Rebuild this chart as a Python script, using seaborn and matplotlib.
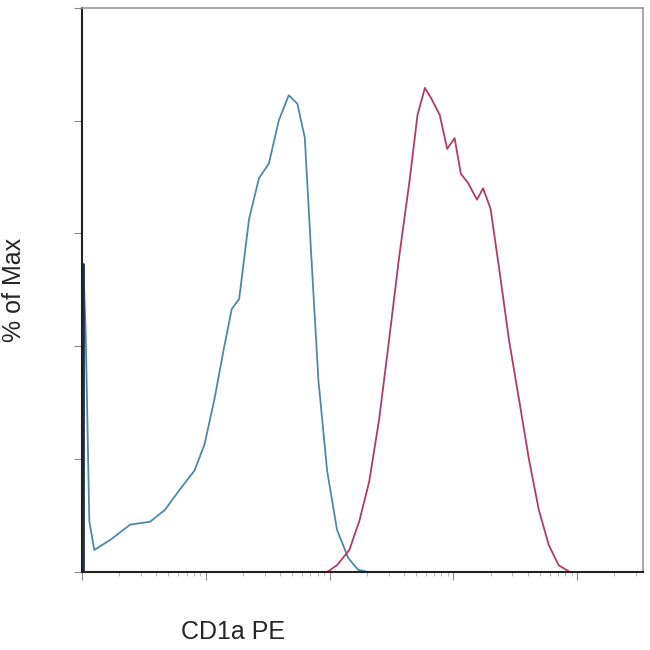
import matplotlib
matplotlib.use("Agg")
import matplotlib.pyplot as plt
import seaborn as sns
import numpy as np
import pandas as pd

# x in log decades (0 = 10^0), y in % of Max
blue_x = [0.0, 0.01, 0.03, 0.06, 0.10, 0.23, 0.39, 0.55, 0.67, 0.79, 0.91, 0.99, 1.07, 1.15, 1.21, 1.27, 1.35, 1.43, 1.51, 1.59, 1.67, 1.74, 1.80, 1.85, 1.91, 1.98, 2.06, 2.15, 2.23, 2.31, 2.40, 2.52]
blue_y = [0.0, 54.6, 43.0, 9.0, 3.9, 5.7, 8.4, 8.9, 11.0, 14.6, 18.0, 22.6, 30.6, 40.0, 46.6, 48.4, 62.6, 69.8, 72.4, 80.0, 84.5, 83.0, 77.0, 57.0, 34.0, 18.0, 7.5, 2.5, 0.4, 0.0, 0.0, 0.0]
red_x = [1.98, 2.06, 2.16, 2.24, 2.32, 2.40, 2.48, 2.56, 2.65, 2.71, 2.77, 2.82, 2.89, 2.95, 3.01, 3.06, 3.12, 3.19, 3.24, 3.30, 3.37, 3.45, 3.53, 3.61, 3.69, 3.77, 3.85, 3.94]
red_y = [0.0, 1.2, 3.9, 9.0, 16.0, 27.0, 41.0, 55.5, 70.0, 81.0, 85.8, 84.0, 81.0, 75.0, 76.9, 70.6, 68.9, 66.0, 68.0, 64.4, 53.7, 41.0, 30.6, 20.0, 11.0, 4.8, 1.2, 0.0]

sns.set_style("white")
plt.rcParams['font.family'] = ['Liberation Sans', 'DejaVu Sans']
fig = plt.figure(figsize=(6.5, 6.5), dpi=100)
ax = fig.add_axes([0.126, 0.12, 0.863, 0.868])

sns.lineplot(x=blue_x, y=blue_y, ax=ax, color="#4f88a6", lw=1.3, sort=False)
sns.lineplot(x=red_x, y=red_y, ax=ax, color="#b03a6a", lw=1.3, sort=False)
ax.plot([0.005, 0.005], [0, 54.6], color="#1b2f5a", lw=2)

ax.set_xlim(0, 4.53)
ax.set_ylim(0, 100)
major = [0, 1, 2, 3, 4]
minor = [d + np.log10(k) for d in range(5) for k in range(2, 10) if d + np.log10(k) < 4.53]
ax.set_xticks(major)
ax.set_xticks(minor, minor=True)
ax.set_yticks([0, 20, 40, 60, 80, 100])
ax.set_xticklabels([])
ax.set_yticklabels([])
ax.tick_params(axis="both", which="major", direction="out", length=6, color="#888888", bottom=True, left=True)
ax.tick_params(axis="x", which="minor", direction="out", length=3, color="#aaaaaa", bottom=True)
for s in ["left", "bottom"]:
    ax.spines[s].set_color("#222222")
    ax.spines[s].set_linewidth(1.5)
for s in ["top", "right"]:
    ax.spines[s].set_color("#999999")
    ax.spines[s].set_linewidth(1.2)
ax.set_xlabel("CD1a PE", fontsize=18)
ax.set_ylabel("% of Max", fontsize=18)
ax.xaxis.set_label_coords(0.27, -0.085)
ax.yaxis.set_label_coords(-0.1, 0.5)
fig.savefig("out.png", dpi=100)
